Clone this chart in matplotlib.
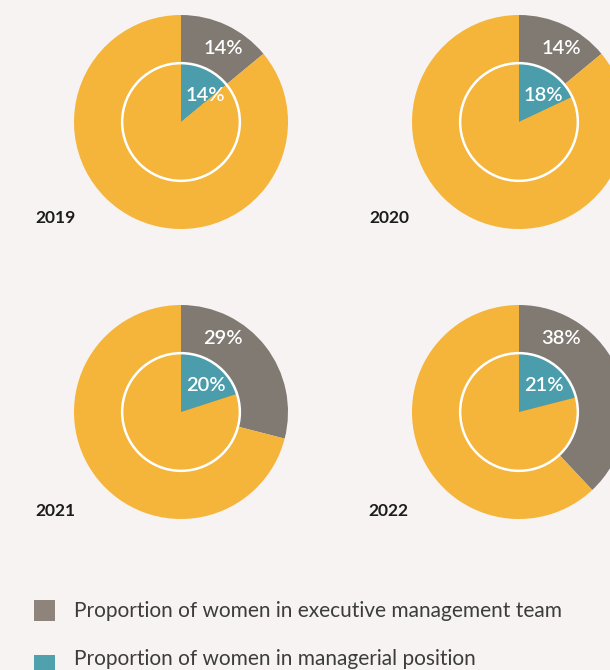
import matplotlib
matplotlib.use("Agg")
import numpy as np
import matplotlib.pyplot as plt
from matplotlib.patches import Circle, Rectangle

# data
years = ["2019", "2020", "2021", "2022"]
executive_pct = [14, 14, 29, 38]
managerial_pct = [14, 18, 20, 21]
legend_labels = ["Proportion of women in executive management team",
                 "Proportion of women in managerial position"]

BG = "#f7f3f2"
ORANGE = "#f5b43a"
GRAY = "#807a73"
TEAL = "#4b9dab"
LEG_GRAY = "#8e847b"
LEG_TEAL = "#4fa1ae"

plt.rcParams["font.family"] = ["Lato", "DejaVu Sans"]

W, H = 610, 670
fig = plt.figure(figsize=(W / 100, H / 100), dpi=100, facecolor=BG)

R = 107          # outer radius in px
INNER = 0.55     # inner radius as fraction of outer
centers = [(181, 122), (519, 122), (181, 412), (519, 412)]
year_pos = [(35, 218), (369, 218), (35, 511), (368, 511)]


def add_pie(cx, cy, exe, man):
    ax = fig.add_axes([(cx - R) / W, 1 - (cy + R) / H, 2 * R / W, 2 * R / H])
    ax.pie([exe, 100 - exe], colors=[GRAY, ORANGE], radius=1,
           startangle=90, counterclock=False,
           wedgeprops=dict(linewidth=0))
    ax.pie([man, 100 - man], colors=[TEAL, ORANGE], radius=INNER,
           startangle=90, counterclock=False,
           wedgeprops=dict(linewidth=0))
    ax.add_patch(Circle((0, 0), INNER, fill=False, ec="white", lw=1.8))
    ax.set_xlim(-1, 1)
    ax.set_ylim(-1, 1)
    ax.set_aspect("equal")
    ax.axis("off")
    # percentage labels
    a = np.deg2rad(90 - 30)
    ax.text(0.79 * np.cos(a), 0.79 * np.sin(a), f"{exe}%", color="white",
            fontsize=14.5, fontweight="semibold", ha="center", va="center")
    a = np.deg2rad(90 - 43)
    ax.text(0.34 * np.cos(a), 0.34 * np.sin(a), f"{man}%", color="white",
            fontsize=14.5, fontweight="semibold", ha="center", va="center")
    return ax


for (cx, cy), exe, man in zip(centers, executive_pct, managerial_pct):
    add_pie(cx, cy, exe, man)

for (x, y), yr in zip(year_pos, years):
    fig.text(x / W, 1 - y / H, yr, fontsize=12.5, fontweight="bold",
             color="#1c1c1c", ha="left", va="center")

# legend
for (y, ty, col, lab) in zip([600, 655], [611, 659], [LEG_GRAY, LEG_TEAL],
                             legend_labels):
    fig.add_artist(Rectangle((34 / W, 1 - (y + 21) / H), 21 / W, 21 / H,
                             transform=fig.transFigure, color=col, lw=0))
    fig.text(74 / W, 1 - ty / H, lab, fontsize=15, color="#3c3c3c",
             ha="left", va="center")

fig.savefig("out.png", dpi=100, facecolor=BG)
